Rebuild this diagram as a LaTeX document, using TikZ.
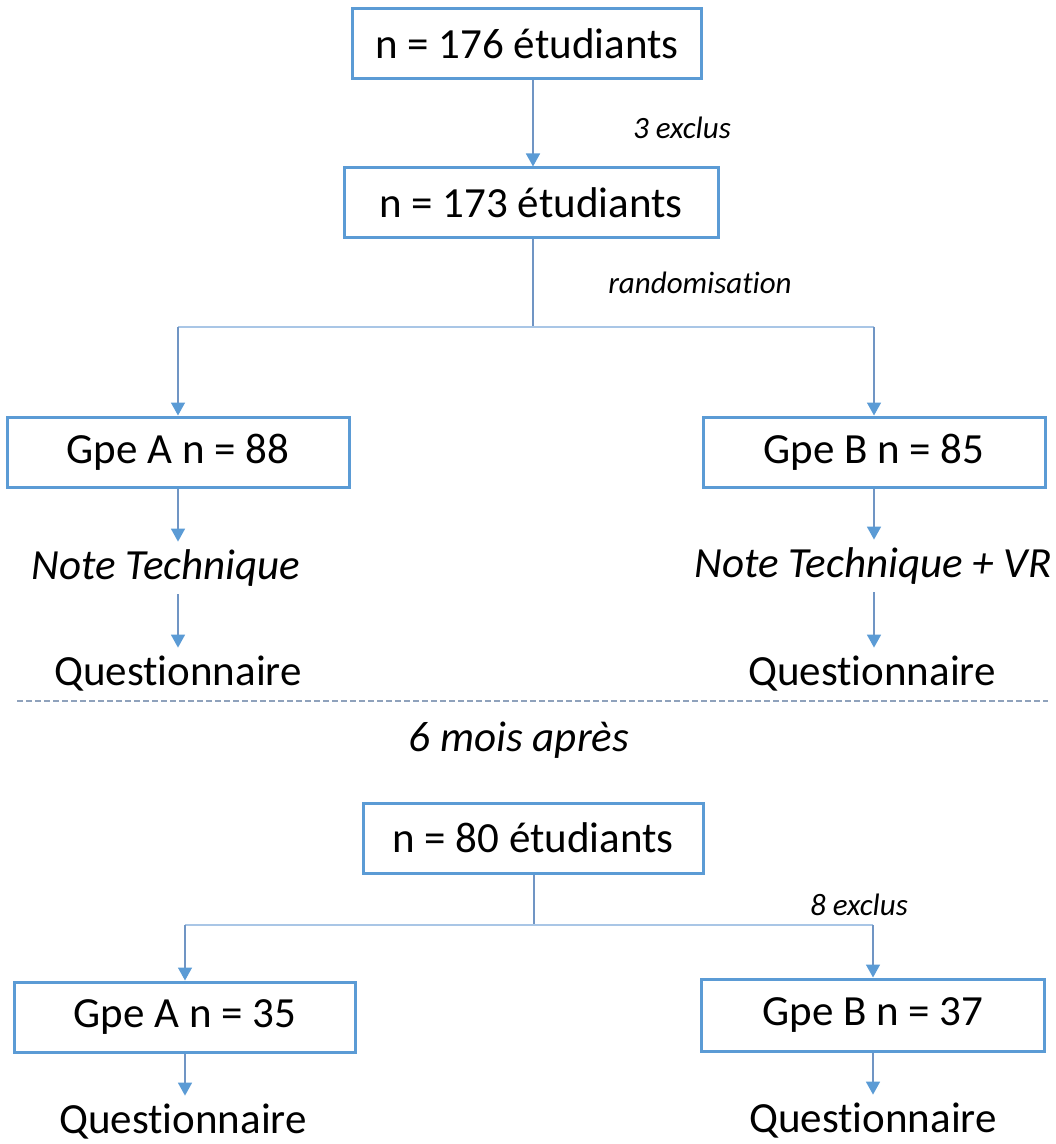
\documentclass[tikz,border=0pt]{standalone}
\usepackage{fontspec}
\setmainfont{Carlito}[Ligatures=NoCommon]
\usetikzlibrary{arrows.meta}
\definecolor{boxblue}{HTML}{5B9BD5}
\definecolor{lineblue}{HTML}{7095C4}
\definecolor{forkblue}{HTML}{A9C6E6}
\definecolor{dashgray}{HTML}{8FA2BC}

\begin{document}
\begin{tikzpicture}[x=0.5pt,y=-0.5pt,
    boite/.style={draw=boxblue,line width=1.5pt,inner sep=0pt,
        minimum height=35pt,font=\fontsize{21.5}{26}\selectfont},
    txt/.style={inner sep=0pt,minimum height=26pt,font=\fontsize{21.5}{26}\selectfont},
    lbl/.style={inner sep=0pt,font=\fontsize{15.5}{19}\selectfont\itshape},
    conn/.style={draw=lineblue,line width=0.8pt},
    arr/.style={conn,-{Triangle[width=7pt,length=6.5pt,fill=boxblue,color=boxblue]}},
    fork/.style={draw=forkblue,line width=1.3pt}]
    \useasboundingbox (0,0) rectangle (1055,1144);
    % inclusion
    \node[boite,minimum width=174.5pt] (n176) at (527,44)  {n = 176 étudiants};
    \node[boite,minimum width=187pt]   (n173) at (531,203) {n = 173 étudiants};
    \node[lbl] (excl3) at (682,128) {3 exclus};
    \draw[arr] (n176.south -| 533,0) -- (n173.north -| 533,0);
    % randomisation
    \coordinate (fork1) at (533,327);
    \node[lbl] (rando) at (700,283) {randomisation};
    \node[boite,minimum width=171pt] (gpeA) at (178,452) {Gpe A n = 88};
    \node[boite,minimum width=171pt] (gpeB) at (874,452) {Gpe B n = 85};
    \draw[conn] (n173.south -| fork1) -- (fork1);
    \draw[fork] (fork1 -| gpeA) -- (fork1 -| gpeB);
    \draw[arr] (fork1 -| gpeA) -- (gpeA.north);
    \draw[arr] (fork1 -| gpeB) -- (gpeB.north);
    % interventions
    \node[txt,font=\fontsize{21.5}{26}\selectfont\itshape] (noteA) at (166,568) {Note Technique};
    \node[txt,font=\fontsize{21.5}{26}\selectfont\itshape] (noteB) at (873,566) {Note Technique + VR};
    \node[txt] (questA) at (178,674) {Questionnaire};
    \node[txt] (questB) at (872,674) {Questionnaire};
    \draw[arr] (gpeA.south) -- (gpeA.south |- noteA.north);
    \draw[arr] (gpeA.south |- noteA.south) -- (questA.north -| gpeA.south);
    \draw[arr] (gpeB.south) -- (gpeB.south |- noteB.north);
    \draw[arr] (gpeB.south |- noteB.south) -- (questB.north -| gpeB.south);
    % suivi
    \coordinate (sepL) at (17,701);
    \coordinate (sepR) at (1048,701);
    \draw[dashgray,line width=0.6pt,dash pattern=on 3pt off 1.5pt] (sepL) -- (sepR);
    \node[txt,font=\fontsize{21.5}{26}\selectfont\itshape] (mois) at (519,740) {6 mois après};
    \node[boite,minimum width=170pt] (n80) at (533,838) {n = 80 étudiants};
    \coordinate (fork2) at (534,925);
    \node[lbl] (excl8) at (859,905) {8 exclus};
    \node[boite,minimum width=170.5pt] (gpeA2) at (185,1017) {Gpe A n = 35};
    \node[boite,minimum width=171.5pt,minimum height=36pt] (gpeB2) at (873,1015) {Gpe B n = 37};
    \draw[conn] (n80.south -| fork2) -- (fork2);
    \draw[fork] (fork2 -| gpeA2) -- (fork2 -| gpeB2);
    \draw[arr] (fork2 -| gpeA2) -- (gpeA2.north);
    \draw[arr] (fork2 -| gpeB2) -- (gpeB2.north);
    \node[txt] (questA2) at (183,1122) {Questionnaire};
    \node[txt] (questB2) at (873,1121) {Questionnaire};
    \draw[arr] (gpeA2.south) -- (gpeA2.south |- questA2.north);
    \draw[arr] (gpeB2.south) -- (gpeB2.south |- questB2.north);
\end{tikzpicture}
\end{document}
